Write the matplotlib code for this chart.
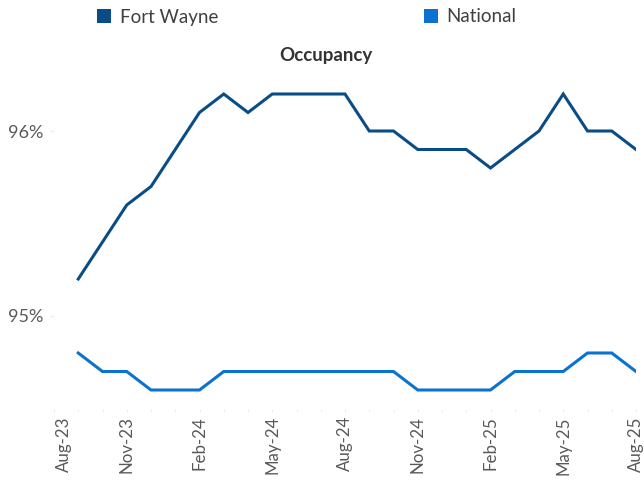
import matplotlib
matplotlib.use("Agg")
import matplotlib.pyplot as plt
import matplotlib.transforms as mtransforms
from matplotlib.patches import Patch

plt.rcParams['font.family'] = ['Lato', 'DejaVu Sans']

months = ["Aug-23", "Sep-23", "Oct-23", "Nov-23", "Dec-23", "Jan-24", "Feb-24", "Mar-24",
          "Apr-24", "May-24", "Jun-24", "Jul-24", "Aug-24", "Sep-24", "Oct-24", "Nov-24",
          "Dec-24", "Jan-25", "Feb-25", "Mar-25", "Apr-25", "May-25", "Jun-25", "Jul-25",
          "Aug-25"]
# data runs Sep-23 .. Aug-25
fort_wayne = [95.2, 95.4, 95.6, 95.7, 95.9, 96.1, 96.2, 96.1, 96.2, 96.2, 96.2, 96.2,
              96.0, 96.0, 95.9, 95.9, 95.9, 95.8, 95.9, 96.0, 96.2, 96.0, 96.0, 95.9]
national = [94.8, 94.7, 94.7, 94.6, 94.6, 94.6, 94.7, 94.7, 94.7, 94.7, 94.7, 94.7,
            94.7, 94.7, 94.6, 94.6, 94.6, 94.6, 94.7, 94.7, 94.7, 94.8, 94.8, 94.7]
label_months = ["Aug-23", "Nov-23", "Feb-24", "May-24", "Aug-24", "Nov-24", "Feb-25", "May-25", "Aug-25"]
y_ticks = [95, 96]
y_labels = ["95%", "96%"]

FW_COLOR = "#0A4C86"
NAT_COLOR = "#0B73CF"
GRAY = "#595959"

W, H = 644, 480
fig = plt.figure(figsize=(W / 100, H / 100), dpi=100)
left, right = 54, 636
bottom, top = 408.5, 75.5
ax = fig.add_axes([left / W, 1 - bottom / H, (right - left) / W, (bottom - top) / H])

xs = [months.index(m) for m in months[1:]]
ax.plot(xs, fort_wayne, color=FW_COLOR, lw=2.2, solid_joinstyle='miter')
ax.plot(xs, national, color=NAT_COLOR, lw=2.2, solid_joinstyle='miter')

ax.set_xlim(0, len(months) - 1)
ax.set_ylim(94.5, 96.3)

ax.set_xticks([months.index(m) for m in label_months])
ax.set_xticklabels(label_months, rotation=90, color=GRAY, fontsize=12.2)
ax.set_xticks(range(len(months)), minor=True)
ax.tick_params(axis='x', which='both', length=2.5, color="#ECECEC", pad=3)
ax.set_yticks(y_ticks)
ax.set_yticklabels(y_labels, color=GRAY, fontsize=13)
ax.tick_params(axis='y', length=3, color="#ECECEC", pad=5)

for s in ax.spines.values():
    s.set_visible(False)

# first label sits slightly right of its tick in the reference
lbl0 = ax.get_xticklabels()[0]
lbl0.set_transform(lbl0.get_transform() + mtransforms.ScaledTranslation(10 / 100, 0, fig.dpi_scale_trans))

fig.text(326 / W, 1 - 55 / H, "Occupancy", ha='center', va='center', fontsize=13.5,
         fontweight='bold', color="#333333")

handles = [Patch(facecolor=FW_COLOR, edgecolor='none', label="Fort Wayne"),
           Patch(facecolor=NAT_COLOR, edgecolor='none', label="National")]
fig.legend(handles=handles, loc='center left', bbox_to_anchor=(97 / W, 1 - 17 / H), ncol=2,
           frameon=False, fontsize=13.5, handlelength=0.75, handleheight=0.75,
           handletextpad=0.45, columnspacing=11.0, labelcolor="#404040", borderaxespad=0,
           borderpad=0)

fig.savefig("out.png", dpi=100)
